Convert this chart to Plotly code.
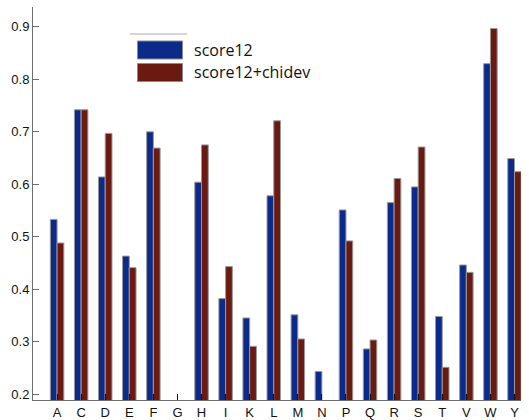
import plotly.graph_objects as go

categories = ["A", "C", "D", "E", "F", "G", "H", "I", "K", "L",
              "M", "N", "P", "Q", "R", "S", "T", "V", "W", "Y"]
score12 = [0.533, 0.742, 0.614, 0.463, 0.700, None, 0.604, 0.382, 0.345, 0.578,
           0.351, 0.243, 0.551, 0.286, 0.565, 0.595, 0.348, 0.446, 0.830, 0.649]
score12_chidev = [0.488, 0.742, 0.697, 0.441, 0.669, None, 0.675, 0.443, 0.291, 0.721,
                  0.305, None, 0.492, 0.303, 0.611, 0.671, 0.251, 0.432, 0.897, 0.624]
series_names = ["score12", "score12+chidev"]
colors = ["#0b2a8a", "#6a1a10"]
y_ticks = [0.2, 0.3, 0.4, 0.5, 0.6, 0.7, 0.8, 0.9]

W, H = 529, 420
L, R, T, B = 33, 8, 7, 20
pw, ph = W - L - R, H - T - B


def px(x):
    return (x - L) / pw


def py(y):
    return (H - B - y) / ph


fig = go.Figure()
for name, vals, col in zip(series_names, [score12, score12_chidev], colors):
    fig.add_trace(go.Bar(
        x=categories, y=vals, name=name,
        marker=dict(color=col, line=dict(color="#9a9a9a", width=1)),
        showlegend=False,
    ))

shapes = []
annotations = []
# custom legend
shapes.append(dict(type="line", xref="paper", yref="paper",
                   x0=px(130), x1=px(187), y0=py(34), y1=py(34),
                   line=dict(color="#c8c8c8", width=1.5)))
for i, (name, col) in enumerate(zip(series_names, colors)):
    top = 41 + i * 22.5
    shapes.append(dict(type="rect", xref="paper", yref="paper",
                       x0=px(137.5), x1=px(182.5), y0=py(top), y1=py(top + 18),
                       fillcolor=col, line=dict(color="#8a8a8a", width=1)))
    annotations.append(dict(xref="paper", yref="paper", x=px(192), y=py(top + 9),
                            text=name, showarrow=False, xanchor="left", yanchor="middle",
                            font=dict(family="Open Sans, sans-serif", size=16, color="#111")))

fig.update_layout(
    width=W, height=H,
    margin=dict(l=L, r=R, t=T, b=B, autoexpand=False),
    paper_bgcolor="white", plot_bgcolor="white",
    barmode="group", bargap=0.44, bargroupgap=0.0,
    shapes=shapes, annotations=annotations,
    font=dict(family="Liberation Sans, Arial, sans-serif", size=12, color="#111"),
)
fig.update_xaxes(
    type="category", categoryorder="array", categoryarray=categories,
    range=[-1, 19.27], showgrid=False, zeroline=False, automargin=False,
    showline=True, linecolor="#6e6e6e", linewidth=1,
    ticks="inside", ticklen=6, tickcolor="#111", tickwidth=1,
    tickfont=dict(size=13),
)
fig.update_yaxes(
    range=[0.1886, 0.938], tickvals=y_ticks, tickformat=".1f",
    showgrid=False, zeroline=False, automargin=False,
    showline=True, linecolor="#6e6e6e", linewidth=1,
    ticks="inside", ticklen=6, tickcolor="#6e6e6e", tickwidth=1,
    tickfont=dict(size=13),
)

fig.write_html("out.html", config={"displayModeBar": False},
               post_script="document.body.style.margin='0';")
